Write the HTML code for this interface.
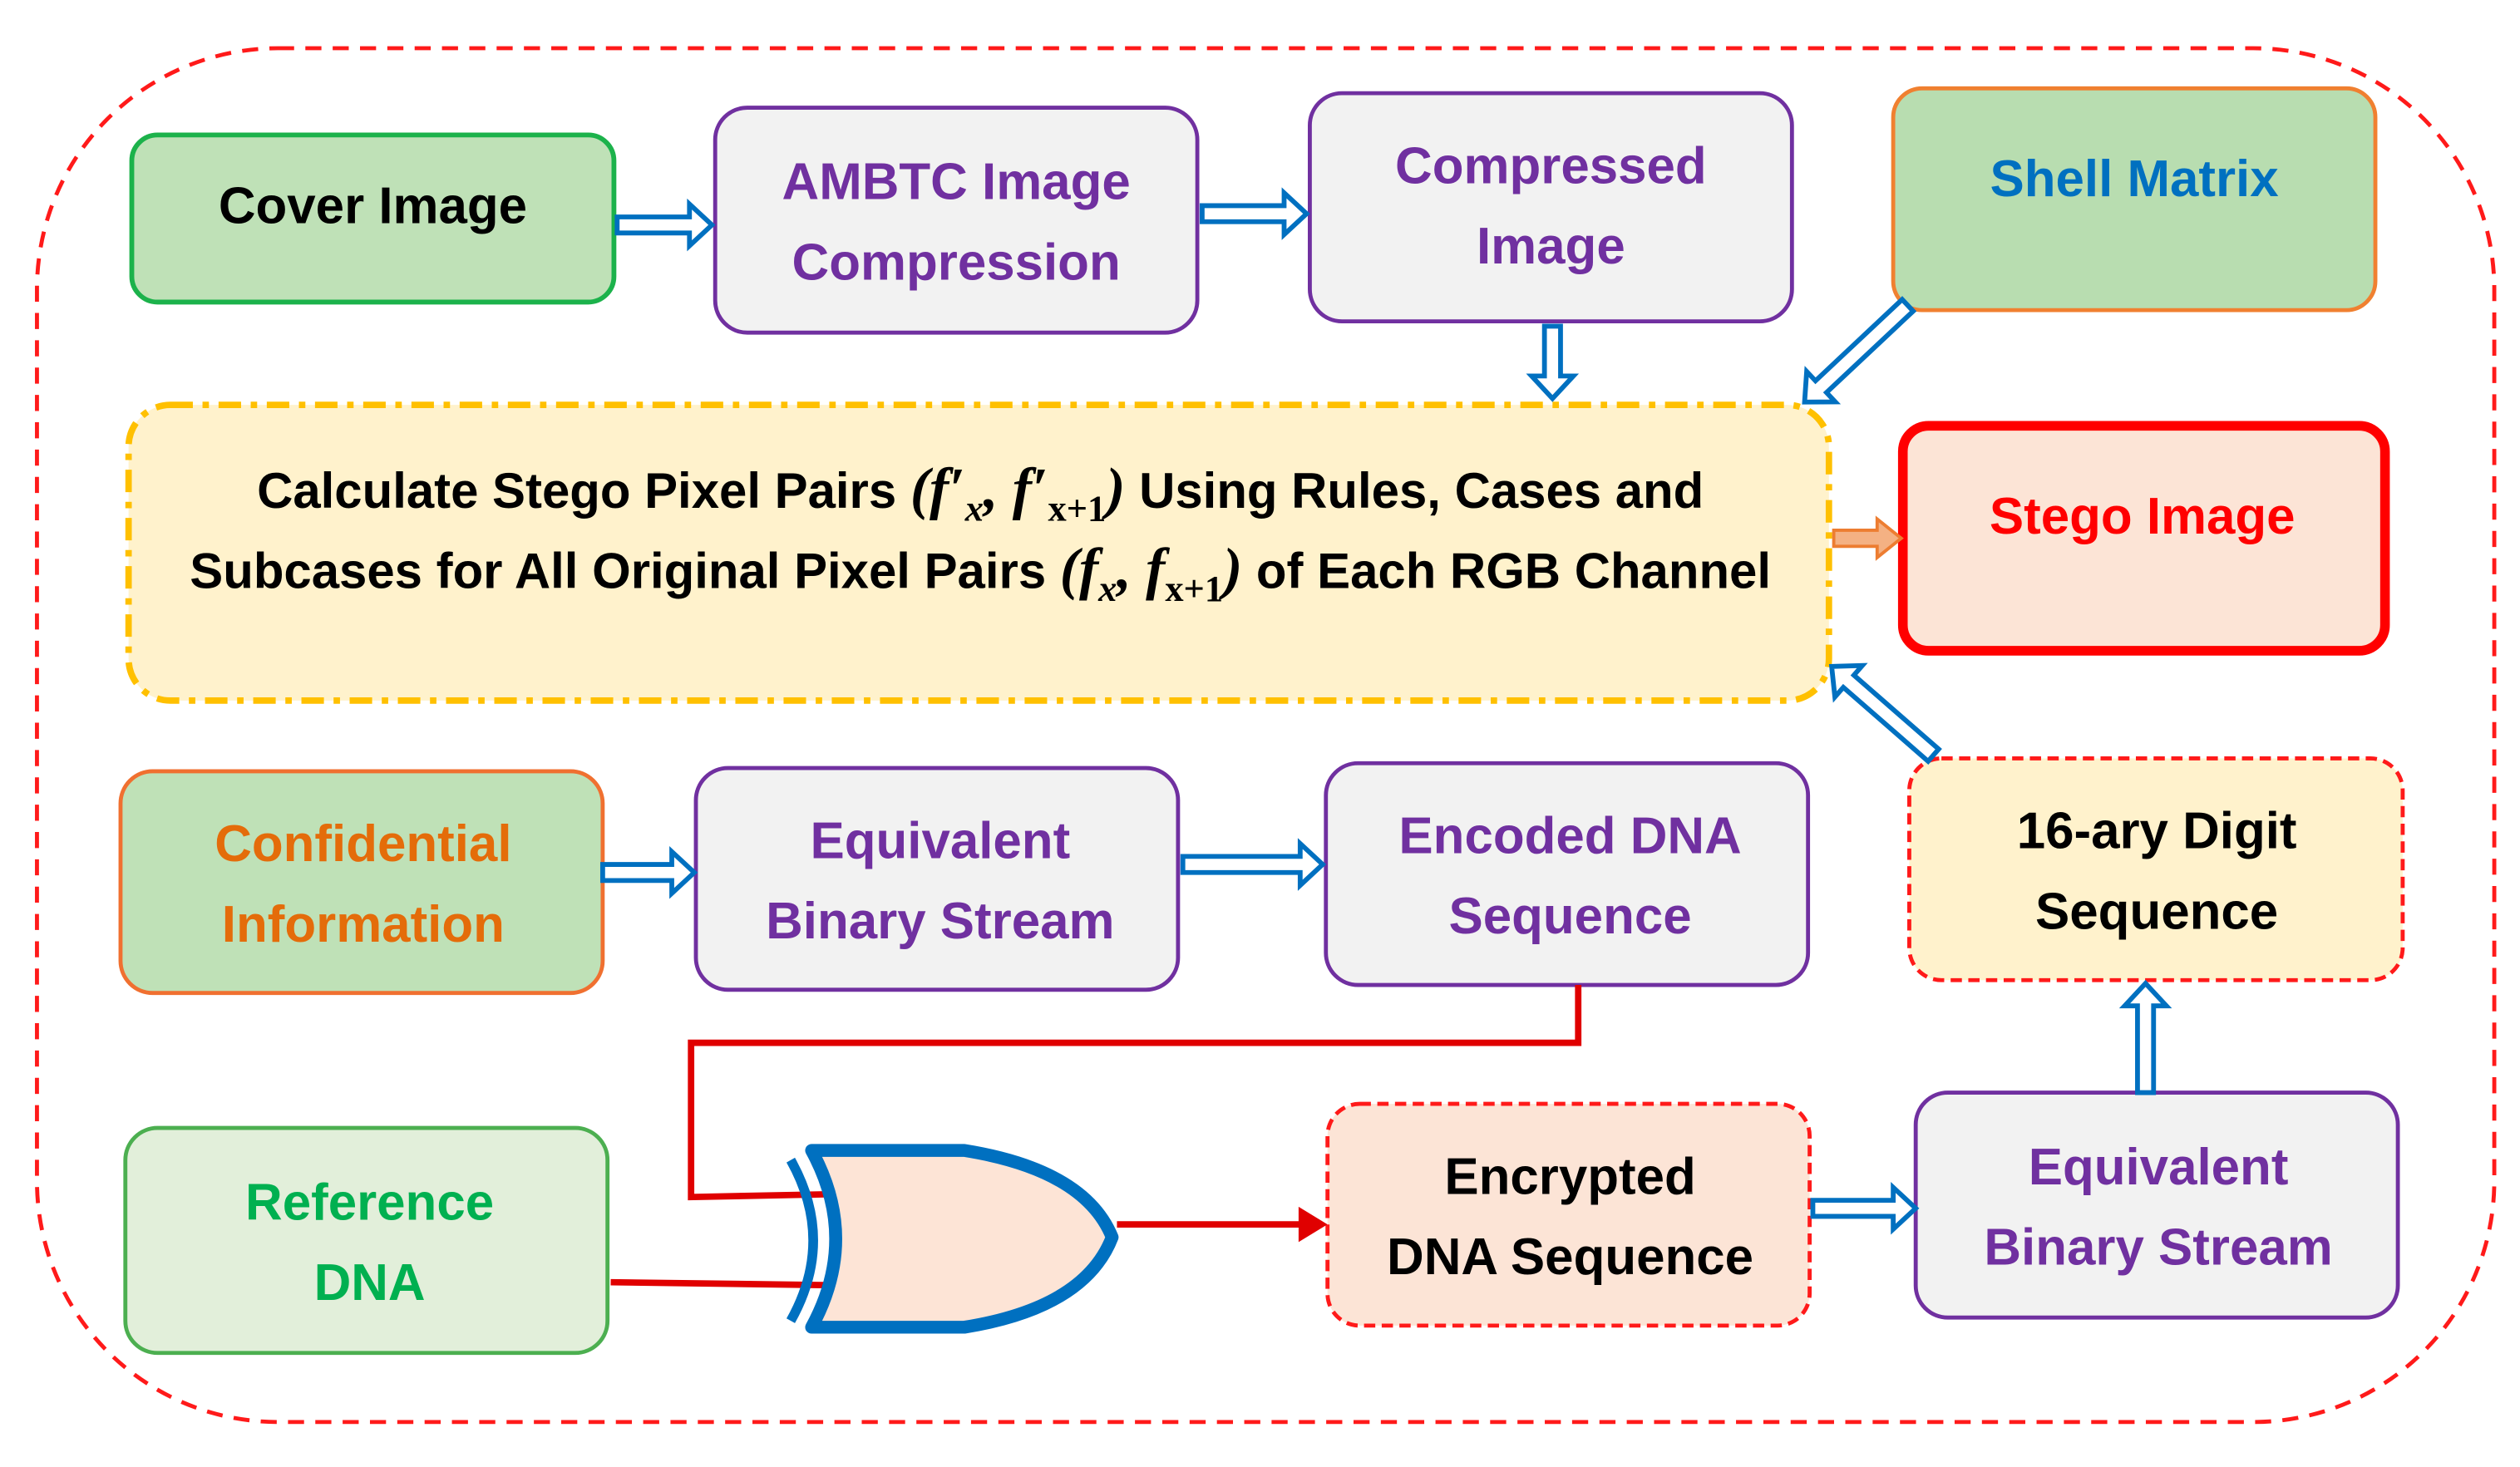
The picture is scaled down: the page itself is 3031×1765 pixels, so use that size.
<!DOCTYPE html>
<html><head><meta charset="utf-8"><style>
html,body{margin:0;padding:0;background:#fff;}
svg{display:block;}
text{font-family:"Liberation Sans",sans-serif;font-weight:bold;font-size:32px;text-anchor:middle;}
.m{font-family:"Liberation Serif",serif;font-style:italic;}
</style></head><body>
<svg width="3031" height="1765" viewBox="0 0 1568 913" preserveAspectRatio="none" xmlns="http://www.w3.org/2000/svg">
<rect x="23" y="30" width="1529" height="855" rx="150" fill="none" stroke="#ff1a1a" stroke-width="2.5" stroke-dasharray="10 7"/>

<rect x="82" y="84" width="300" height="104" rx="16" fill="#bfe1b7" stroke="#1cb24b" stroke-width="3"/>
<rect x="445" y="67" width="300" height="140" rx="20" fill="#f2f2f2" stroke="#7030a0" stroke-width="2.5"/>
<rect x="815" y="58" width="300" height="142" rx="20" fill="#f2f2f2" stroke="#7030a0" stroke-width="2.5"/>
<rect x="1178" y="55" width="300" height="138" rx="18" fill="#b8ddb0" stroke="#f08030" stroke-width="2.5"/>
<rect x="80" y="252" width="1058" height="184" rx="26" fill="#fff2cc" stroke="#ffc000" stroke-width="4" stroke-dasharray="14 6 4 6"/>
<rect x="1184" y="265" width="300" height="140" rx="16" fill="#fce4d6" stroke="#ff0000" stroke-width="6"/>
<rect x="75" y="480" width="300" height="138" rx="20" fill="#bfe1b7" stroke="#f07030" stroke-width="2.5"/>
<rect x="433" y="478" width="300" height="138" rx="20" fill="#f2f2f2" stroke="#7030a0" stroke-width="2.5"/>
<rect x="825" y="475" width="300" height="138" rx="20" fill="#f2f2f2" stroke="#7030a0" stroke-width="2.5"/>
<rect x="1188" y="472" width="307" height="138" rx="20" fill="#fff2cc" stroke="#ff1a1a" stroke-width="2.5" stroke-dasharray="7 4"/>
<rect x="78" y="702" width="300" height="140" rx="20" fill="#e2efda" stroke="#4caf50" stroke-width="2.5"/>
<rect x="826" y="687" width="300" height="138" rx="20" fill="#fce4d6" stroke="#ff1a1a" stroke-width="2.5" stroke-dasharray="7 4"/>
<rect x="1192" y="680" width="300" height="140" rx="20" fill="#f2f2f2" stroke="#7030a0" stroke-width="2.5"/>

<text x="232" y="139" fill="#000">Cover Image</text>
<text x="595" y="124" fill="#7030a0">AMBTC Image</text>
<text x="595" y="174" fill="#7030a0">Compression</text>
<text x="965" y="114" fill="#7030a0">Compressed</text>
<text x="965" y="164" fill="#7030a0">Image</text>
<text x="1328" y="122" fill="#0070c0">Shell Matrix</text>
<text x="1333" y="332" fill="#ff0000">Stego Image</text>
<text x="610" y="316" fill="#000" style="font-size:31px">Calculate Stego Pixel Pairs <tspan class="m" font-size="36">(f′<tspan font-size="23" dy="8">x</tspan><tspan dy="-8">, f′</tspan><tspan font-size="23" dy="8" font-style="normal">x+1</tspan><tspan dy="-8">)</tspan></tspan> Using Rules, Cases and</text>
<text x="610" y="366" fill="#000" style="font-size:31px">Subcases for All Original Pixel Pairs <tspan class="m" font-size="36">(f<tspan font-size="23" dy="8">x</tspan><tspan dy="-8">, f</tspan><tspan font-size="23" dy="8" font-style="normal">x+1</tspan><tspan dy="-8">)</tspan></tspan> of Each RGB Channel</text>
<text x="226" y="536" fill="#e46c0a">Confidential</text>
<text x="226" y="586" fill="#e46c0a">Information</text>
<text x="585" y="534" fill="#7030a0">Equivalent</text>
<text x="585" y="584" fill="#7030a0">Binary Stream</text>
<text x="977" y="531" fill="#7030a0">Encoded DNA</text>
<text x="977" y="581" fill="#7030a0">Sequence</text>
<text x="1342" y="528" fill="#000">16-ary Digit</text>
<text x="1342" y="578" fill="#000">Sequence</text>
<text x="230" y="759" fill="#00b050">Reference</text>
<text x="230" y="809" fill="#00b050">DNA</text>
<text x="977" y="743" fill="#000">Encrypted</text>
<text x="977" y="793" fill="#000">DNA Sequence</text>
<text x="1343" y="737" fill="#7030a0">Equivalent</text>
<text x="1343" y="787" fill="#7030a0">Binary Stream</text>

<g fill="#fff" stroke="#0070c0" stroke-width="3" stroke-linejoin="miter">
<polygon points="384,135 429,135 429,127 443,140 429,153 429,145 384,145"/>
<polygon points="748,128 799,128 799,120 813,133 799,146 799,138 748,138"/>
<polygon points="375,538 418,538 418,530 432,543 418,556 418,548 375,548"/>
<polygon points="736,533 809,533 809,525 823,538 809,551 809,543 736,543"/>
<polygon points="1128,747 1178,747 1178,739 1192,752 1178,765 1178,757 1128,757"/>
<g transform="translate(966,203) rotate(90)"><polygon points="0,-5 31,-5 31,-13 45,0 31,13 31,5 0,5"/></g>
<g transform="translate(1335,680) rotate(-90)"><polygon points="0,-5 54,-5 54,-13 68,0 54,13 54,5 0,5"/></g>
<g transform="translate(1187,190) rotate(136.8)"><polygon points="0,-5 74,-5 74,-13 88,0 74,13 74,5 0,5"/></g>
<g transform="translate(1203,470) rotate(-138.9)"><polygon points="0,-5 70,-5 70,-13 84,0 70,13 70,5 0,5"/></g>
</g>
<polygon points="1141,330 1168,330 1168,323 1183,335 1168,347 1168,340 1141,340" fill="#f4b183" stroke="#ed7d31" stroke-width="2"/>

<g stroke="#e00000" stroke-width="4" fill="none">
<polyline points="982,613 982,649 430,649 430,745 528,743"/>
<line x1="380" y1="798" x2="527" y2="800"/>
<line x1="695" y1="762" x2="810" y2="762"/>
</g>
<polygon points="808,751 826,762 808,773" fill="#e00000"/>

<path d="M505,716 L600,716 Q675,728 692,770 Q675,814 600,826 L505,826 Q535,771 505,716 Z" fill="#fde4d6" stroke="#0070c0" stroke-width="8" stroke-linejoin="round"/>
<path d="M492,722 Q520,772 492,822" fill="none" stroke="#0070c0" stroke-width="6"/>
</svg>
</body></html>
